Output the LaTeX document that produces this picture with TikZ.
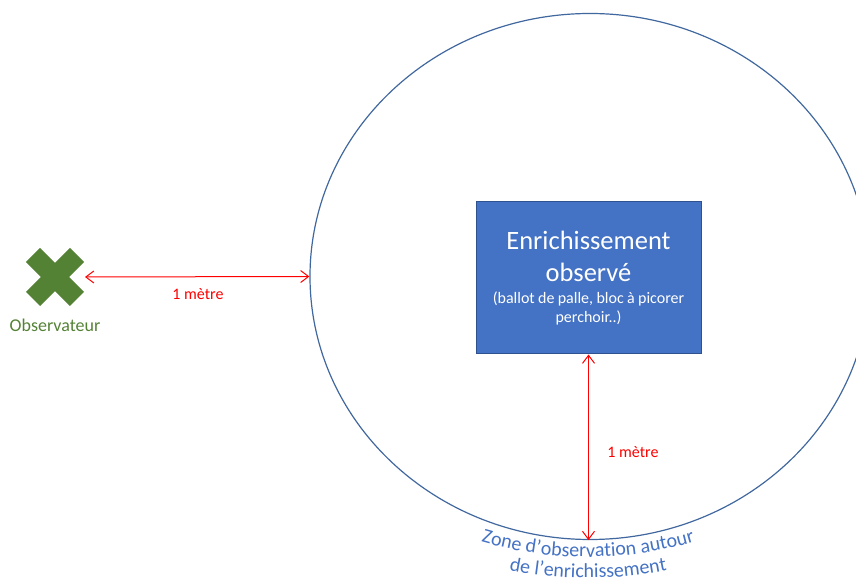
\documentclass[tikz,border=0pt]{standalone}
\usepackage{fontspec}
\setmainfont{Carlito}
\usetikzlibrary{shapes.geometric,shapes.misc,arrows.meta,decorations.text}
\definecolor{boxblue}{HTML}{4472C4}
\definecolor{boxedge}{HTML}{2F528F}
\definecolor{zoneline}{HTML}{41679F}
\definecolor{obsgreen}{HTML}{548235}
\definecolor{zonetext}{HTML}{4472C4}
\begin{document}
\begin{tikzpicture}[x=1pt,y=1pt]
 \tikzset{metre/.style={draw=red, line width=1pt, {Straight Barb[length=8pt,width=12pt]}-{Straight Barb[length=8pt,width=12pt]}}}
 \tikzset{metrelabel/.style={text=red, font=\fontsize{16}{19}\selectfont}}
  \clip (0,0) rectangle (856,586);
  \node[draw=zoneline, line width=1.2pt, ellipse, minimum width=560pt, minimum height=526pt, inner sep=0pt] (zone) at (590,309.5) {};
  \node[draw=boxedge, fill=boxblue, line width=1pt, minimum width=225pt, minimum height=152pt, text width=215pt, align=center, text=white] (enrich) at (588.5,308)
   {{\fontsize{26.5}{32}\selectfont Enrichissement\\observé\par}\vspace{3pt}{\fontsize{16}{19}\selectfont (ballot de palle, bloc à picorer\\perchoir..)\par}};
  \node[cross out, draw=obsgreen, line width=20pt, minimum size=44pt, inner sep=0pt, outer sep=0pt] (obs) at (55,309) {};
  \node[text=obsgreen, font=\fontsize{18}{21}\selectfont] (obslabel) at (55,261) {Observateur};
  \draw[metre] ([xshift=8pt]obs.east) -- (zone.west);
  \draw[metre] (enrich.south) -- (enrich.south |- zone.south);
  \node[metrelabel] (hlabel) at (198,292) {1 mètre};
  \node[metrelabel] (vlabel) at (633,134) {1 mètre};
  % texte courbe sous la zone
  \path[decorate, decoration={text along path, text align=center, text color=zonetext,
    text={|\fontsize{20}{24}\selectfont|Zone d’observation autour}}] (588,409) ++(230:380) arc[start angle=230, end angle=310, radius=380];
  \path[decorate, decoration={text along path, text align=center, text color=zonetext,
    text={|\fontsize{20}{24}\selectfont|de l’enrichissement}}] (588,409) ++(230:401) arc[start angle=230, end angle=310, radius=401];
\end{tikzpicture}
\end{document}
